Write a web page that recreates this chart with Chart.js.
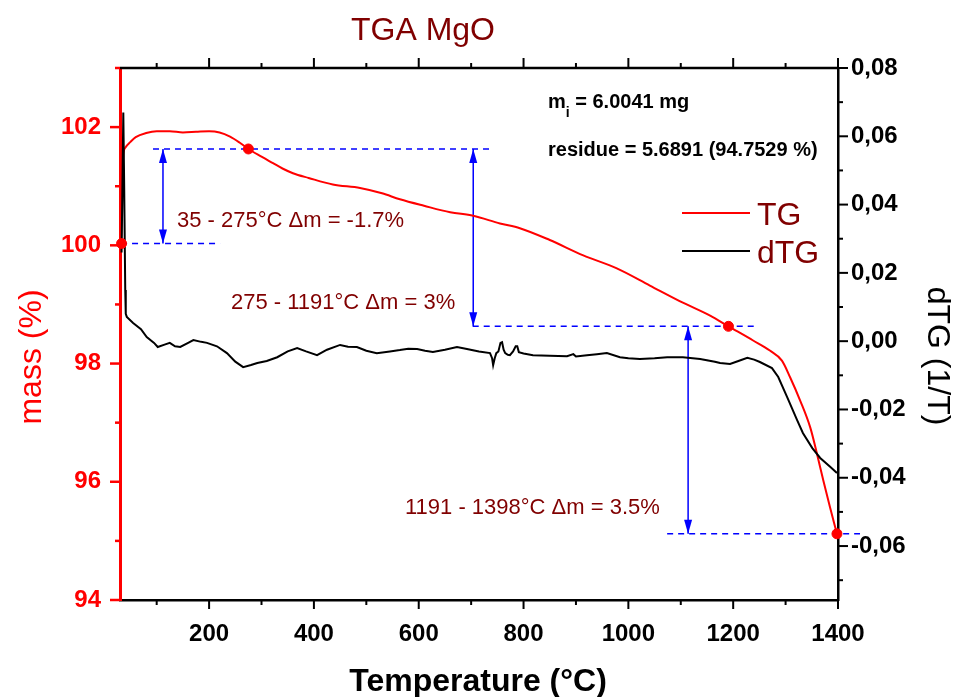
<!DOCTYPE html>
<html><head><meta charset="utf-8">
<script src="https://cdn.jsdelivr.net/npm/chart.js@4.4.1/dist/chart.umd.min.js"></script>
<style>html,body{margin:0;padding:0;background:#fff;overflow:hidden}</style>
</head><body>
<canvas id="c" width="956" height="697" style="width:956px;height:697px;display:block"></canvas>
<script>
// ---- data ----
const tgTemp = [30,32,34,36,40,50,60,80,100,125,150,175,200,220,240,258,275,300,322,340,360,390,436,488,530,564,610,660,704,755,793,850,914,978,1041,1104,1156,1191,1238,1270,1293,1309,1328,1347,1360,1372,1385,1398];
const tgMass = [100.00,100.03,100.9,101.5,101.65,101.75,101.83,101.90,101.93,101.93,101.91,101.92,101.93,101.91,101.84,101.74,101.63,101.50,101.39,101.30,101.22,101.14,101.03,100.97,100.88,100.78,100.67,100.56,100.50,100.37,100.29,100.09,99.83,99.61,99.32,99.03,98.81,98.63,98.39,98.22,98.05,97.76,97.37,96.92,96.47,96.02,95.56,95.12];

const dtgTemp = [33,35,36.3,38,40,41,43,55,70,81,95,102,115,125,135,145,160,170,185,196,215,234,250,265,280,292,310,330,350,368,385,406,425,450,465,482,500,520,545,564,580,597,612,627,650,673,692,715,736,740,742,745,748,752,756,759,762,765,770,774,780,785,788,791,800,818,850,883,895,900,921,940,959,984,1000,1022,1050,1074,1104,1137,1165,1175,1194,1210,1227,1240,1251,1274,1286,1303,1322,1333,1351,1366,1385,1398];
const dtgValue = [0.026,0.050,0.067,0.045,0.015,0.008,0.0071,0.0053,0.0035,0.0012,-0.0005,-0.0017,-0.0010,-0.0005,-0.0015,-0.0017,-0.0005,0.0003,-0.0002,-0.0005,-0.0015,-0.0035,-0.0060,-0.0076,-0.0070,-0.0064,-0.0058,-0.0047,-0.0030,-0.0020,-0.0030,-0.0041,-0.0025,-0.0011,-0.0016,-0.0017,-0.0028,-0.0035,-0.0030,-0.0026,-0.0022,-0.0023,-0.0028,-0.0032,-0.0025,-0.0017,-0.0023,-0.0030,-0.0035,-0.0050,-0.0070,-0.0050,-0.0035,-0.0030,-0.0005,-0.0003,-0.0025,-0.0035,-0.0040,-0.0041,-0.0030,-0.0015,-0.0015,-0.0032,-0.0036,-0.0041,-0.0043,-0.0044,-0.0038,-0.0045,-0.0041,-0.0038,-0.0035,-0.0047,-0.0050,-0.0052,-0.0050,-0.0047,-0.0047,-0.0052,-0.0060,-0.0064,-0.0067,-0.0058,-0.0049,-0.0054,-0.0061,-0.0079,-0.0105,-0.0164,-0.0231,-0.0269,-0.0313,-0.0342,-0.0368,-0.0386];

const markTemp = [33, 275, 1191, 1398];
const markMass = [100.03, 101.63, 98.63, 95.12];

const levelMass  = [101.63, 100.03, 98.63, 95.12];
const levelStart = [93, 32, 703, 1074];
const levelEnd   = [736, 221, 1248, 1442];

const arrowTemp   = [112, 704, 1114];
const arrowTop    = [101.63, 101.63, 98.63];
const arrowBottom = [100.03, 98.63, 95.12];

const xMajorTicks = [200,400,600,800,1000,1200,1400];
const xMinorTicks = [100,300,500,700,900,1100,1300];
const xTickLabels = ['200','400','600','800','1000','1200','1400'];
const leftMajorTicks = [94,96,98,100,102];
const leftMinorTicks = [95,97,99,101,103];
const leftTickLabels = ['94','96','98','100','102'];
const rightMajorTicks = [0.08,0.06,0.04,0.02,0,-0.02,-0.04,-0.06];
const rightMinorTicks = [0.07,0.05,0.03,0.01,-0.01,-0.03,-0.05,-0.07];
const rightTickLabels = ['0,08','0,06','0,04','0,02','0,00','-0,02','-0,04','-0,06'];

const seriesNames = ['TG','dTG'];
const titleText = 'TGA MgO';
const xTitle = 'Temperature (°C)';
const yLeftTitle = 'mass (%)';
const yRightTitle = 'dTG (1/T)';
const stepTexts = ['35 - 275°C \u0394m = -1.7%', '275 - 1191°C \u0394m = 3%', '1191 - 1398°C \u0394m = 3.5%'];
const massInitial = ' = 6.0041 mg';
const residueText = 'residue = 5.6891 (94.7529 %)';

// ---- build datasets ----
const FONT = "'Liberation Sans', Arial, sans-serif";
const RED = '#ff0000', DARKRED = '#800000', BLUE = '#0000ff';
const pts = (xs, ys) => xs.map((x,i)=>({x, y: ys[i]}));

const datasets = [
  {label:'marks', data: pts(markTemp, markMass), yAxisID:'y', showLine:false, pointRadius:5, pointBackgroundColor:RED, pointBorderColor:RED, clip:false},
  {label: seriesNames[1], data: pts(dtgTemp, dtgValue), yAxisID:'y2', borderColor:'#000', borderWidth:2, pointRadius:0, tension:0},
  {label: seriesNames[0], data: pts(tgTemp, tgMass), yAxisID:'y', borderColor:RED, borderWidth:2, pointRadius:0, cubicInterpolationMode:'monotone'},
];
levelMass.forEach((m,i)=>{
  datasets.push({label:'level'+i, data:[{x:levelStart[i],y:m},{x:levelEnd[i],y:m}], yAxisID:'y', borderColor:BLUE, borderWidth:1.5, borderDash:[6,5], pointRadius:0, clip:false});
});
arrowTemp.forEach((t,i)=>{
  datasets.push({label:'arrow'+i, data:[{x:t,y:arrowTop[i]},{x:t,y:arrowBottom[i]}], yAxisID:'y', borderColor:BLUE, borderWidth:1.5, pointRadius:0});
});

const decor = {
  id:'decor',
  afterDraw(chart){
    const ctx = chart.ctx, a = chart.chartArea;
    const sx = chart.scales.x, sy = chart.scales.y, sr = chart.scales.y2;
    ctx.save();
    const line = (x1,y1,x2,y2,c,w)=>{ctx.strokeStyle=c;ctx.lineWidth=w;ctx.beginPath();ctx.moveTo(x1,y1);ctx.lineTo(x2,y2);ctx.stroke();};
    // top axis
    line(a.left, a.top, a.right+1, a.top, '#000', 2.5);
    xMajorTicks.forEach(v=>{const p=sx.getPixelForValue(v); line(p,a.bottom,p,a.bottom+9,'#000',2); line(p,a.top,p,a.top-10,'#000',2);});
    xMinorTicks.forEach(v=>{const p=sx.getPixelForValue(v); line(p,a.bottom,p,a.bottom+5,'#000',2); line(p,a.top,p,a.top-5,'#000',2);});
    leftMajorTicks.forEach(v=>{const p=sy.getPixelForValue(v); line(a.left,p,a.left-10,p,RED,2.5);});
    leftMinorTicks.forEach(v=>{const p=sy.getPixelForValue(v); line(a.left,p,a.left-5,p,RED,2.5);});
    rightMajorTicks.forEach(v=>{const p=sr.getPixelForValue(v); line(a.right,p,a.right+10,p,'#000',2);});
    rightMinorTicks.forEach(v=>{const p=sr.getPixelForValue(v); line(a.right,p,a.right+5,p,'#000',2);});
    // arrow heads
    ctx.fillStyle = BLUE;
    const head = (x,y,dir)=>{ctx.beginPath();ctx.moveTo(x,y);ctx.lineTo(x-4,y+dir*14);ctx.lineTo(x+4,y+dir*14);ctx.closePath();ctx.fill();};
    arrowTemp.forEach((t,i)=>{
      const px = sx.getPixelForValue(t);
      head(px, sy.getPixelForValue(arrowTop[i]), 1);
      head(px, sy.getPixelForValue(arrowBottom[i]), -1);
    });
    // title
    ctx.textBaseline='alphabetic';
    ctx.fillStyle = DARKRED; ctx.textAlign='center';
    ctx.font = '32px '+FONT; ctx.fillText(titleText, 423, 40);
    // x title
    ctx.fillStyle='#000'; ctx.font='bold 32px '+FONT; ctx.fillText(xTitle, 478, 691);
    // left title
    ctx.save(); ctx.translate(41, 357); ctx.rotate(-Math.PI/2);
    ctx.fillStyle=RED; ctx.font='32px '+FONT; ctx.textAlign='center'; ctx.fillText(yLeftTitle,0,0); ctx.restore();
    // right title
    ctx.save(); ctx.translate(928, 356); ctx.rotate(Math.PI/2);
    ctx.fillStyle='#000'; ctx.font='32px '+FONT; ctx.textAlign='center'; ctx.fillText(yRightTitle,0,0); ctx.restore();
    // legend
    ctx.textAlign='left';
    line(682,213,750,213,RED,2); line(682,251,750,251,'#000',2);
    ctx.fillStyle=DARKRED; ctx.font='32px '+FONT;
    ctx.fillText(seriesNames[0],757,225); ctx.fillText(seriesNames[1],757,263);
    // step texts
    ctx.font='22px '+FONT; ctx.fillStyle=DARKRED;
    ctx.fillText(stepTexts[0],177,227);
    ctx.fillText(stepTexts[1],231,309);
    ctx.fillText(stepTexts[2],405,514);
    // m_i and residue
    ctx.fillStyle='#000'; ctx.font='bold 20px '+FONT;
    ctx.fillText('m',548,108);
    const mw = ctx.measureText('m').width;
    ctx.font='bold 14px '+FONT; ctx.fillText('i',548+mw,117);
    const iw = ctx.measureText('i').width;
    ctx.font='bold 20px '+FONT; ctx.fillText(massInitial,548+mw+iw,108);
    ctx.fillText(residueText,548,156);
    ctx.restore();
  }
};

new Chart(document.getElementById('c'), {
  type:'line',
  data:{datasets},
  options:{
    responsive:false, animation:false, devicePixelRatio:1,
    layout:{padding:{top:68,left:0,right:0,bottom:0}},
    plugins:{legend:{display:false}, tooltip:{enabled:false}},
    scales:{
      x:{type:'linear', position:'bottom', min:30, max:1400,
        afterFit:s=>{s.height=97;},
        afterBuildTicks:s=>{s.ticks=xMajorTicks.map(v=>({value:v}));},
        ticks:{autoSkip:false, maxRotation:0, padding:20, color:'#000', font:{family:FONT,size:24,weight:'bold'},
          callback:(v,i)=>xTickLabels[i]},
        grid:{display:false, drawTicks:false},
        border:{display:true, color:'#000', width:2.5}},
      y:{type:'linear', position:'left', min:94, max:103,
        afterFit:s=>{s.width=120;},
        afterBuildTicks:s=>{s.ticks=leftMajorTicks.map(v=>({value:v}));},
        ticks:{padding:19, color:RED, font:{family:FONT,size:24,weight:'bold'}, callback:(v,i)=>leftTickLabels[i]},
        grid:{display:false, drawTicks:false},
        border:{display:true, color:RED, width:3}},
      y2:{type:'linear', position:'right', min:-0.0758, max:0.08,
        afterFit:s=>{s.width=118;},
        afterBuildTicks:s=>{s.ticks=rightMajorTicks.map(v=>({value:v}));},
        ticks:{padding:13, color:'#000', font:{family:FONT,size:24,weight:'bold'}, callback:(v,i)=>rightTickLabels[i]},
        grid:{display:false, drawTicks:false},
        border:{display:true, color:'#000', width:2.5}}
    }
  },
  plugins:[decor]
});
</script>
</body></html>
